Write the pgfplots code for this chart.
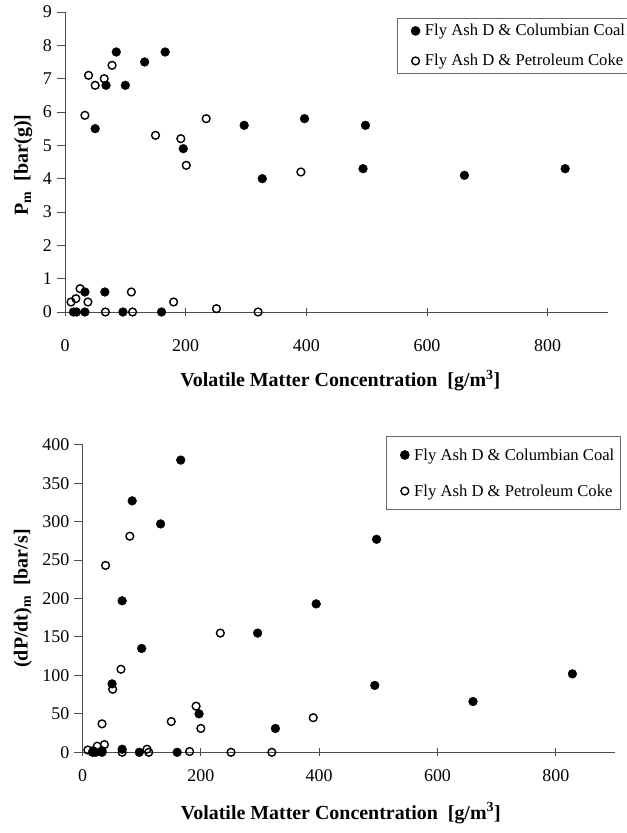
\documentclass[border=0pt]{standalone}
\usepackage{pgfplots}
\pgfplotsset{compat=1.18}
\usepackage{fontspec}
\setmainfont{Liberation Serif}

% Maximum explosion pressure and rate of pressure rise for the two fly-ash blends
\pgfplotstableread{
x y
14 0
19 0
33 0
33 0.6
50 5.5
66 0.6
68 6.8
85 7.8
96 0
100 6.8
132 7.5
160 0
166 7.8
196 4.9
297 5.6
327 4.0
397 5.8
494 4.3
498 5.6
662 4.1
829 4.3
}\coalP
\pgfplotstableread{
x y
10 0.3
18 0.4
25 0.7
33 5.9
38 0.3
39 7.1
50 6.8
65 7.0
67 0
78 7.4
110 0.6
112 0
150 5.3
180 0.3
192 5.2
201 4.4
234 5.8
251 0.1
320 0
391 4.2
}\cokeP
\pgfplotstableread{
x y
17 0
22 0
33 0
33 2
50 89
67 197
67 4
84 327
96 0
100 135
132 297
160 0
166 380
197 50
296 155
326 31
395 193
494 87
497 277
660 66
828 102
}\coalR
\pgfplotstableread{
x y
9 3
18 2
25 8
33 37
37 10
39 243
51 82
65 108
67 0
80 281
109 4
112 0
150 40
181 1
192 60
200 31
233 155
251 0
320 0
390 45
}\cokeR

\pgfplotsset{
  ashaxis/.style={
    scale only axis,
    axis lines*=left,
    axis line style={line width=0.9bp, black!70},
    every tick/.style={line width=0.9bp, black!70},
    xtick align=center,
    ytick align=outside,
    major tick length=8bp,
    xmin=0, xmax=900, ymin=0,
    xtick={0,200,...,800},
    clip=false,
    /pgf/number format/assume math mode=true,
    xticklabel style={font=\fontsize{18}{21}\selectfont},
    yticklabel style={font=\fontsize{18}{21}\selectfont,
      anchor=east, inner sep=0pt, xshift=-5bp},
    label style={font=\fontsize{20}{24}\selectfont\bfseries},
    legend cell align=left,
    legend style={draw=black!60, line width=0.8bp,
      font=\fontsize{16.7}{19}\selectfont,
      inner xsep=4bp},
    legend image code/.code={%
      \path (0bp,0bp) (21bp,0bp);
      \draw[#1] plot coordinates {(14bp,0bp)};},
  },
  coal/.style={only marks, mark=*, mark size=4.4bp, mark options={fill=black, draw=black}},
  coke/.style={only marks, mark=o, mark size=3.9bp, mark options={draw=black, line width=1.4bp}},
}

\begin{document}
\begin{tikzpicture}
\useasboundingbox (0bp,0bp) rectangle (627bp,833bp);

% upper panel: maximum pressure
\begin{axis}[ashaxis,
  at={(65bp,521bp)}, anchor=south west,
  width=543bp, height=300bp,
  ymax=9, ytick={0,1,...,9},
  xticklabel style={anchor=base, yshift=-36bp},
  xlabel={Volatile Matter Concentration\ \ [g/m\textsuperscript{3}]},
  xlabel style={at={(axis description cs:0.507,-0.25)}, anchor=base},
  ylabel={P\textsubscript{m}\ \ [bar(g)]},
  ylabel style={at={(axis description cs:-0.077,0.49)}, anchor=center},
  legend style={at={(axis description cs:0.611,0.98)}, anchor=north west,
    row sep=13bp, inner ysep=4bp},
]
\addplot[coal] table {\coalP};
\addlegendentry{Fly Ash D \& Columbian Coal}
\addplot[coke] table {\cokeP};
\addlegendentry{Fly Ash D \& Petroleum Coke}
\end{axis}

% lower panel: maximum rate of pressure rise
\begin{axis}[ashaxis,
  at={(82.5bp,80.7bp)}, anchor=south west,
  width=532.5bp, height=307.6bp,
  ymax=400, ytick={0,50,...,400},
  xticklabel style={anchor=base, yshift=-25bp},
  xlabel={Volatile Matter Concentration\ \ [g/m\textsuperscript{3}]},
  xlabel style={at={(axis description cs:0.485,-0.218)}, anchor=base},
  ylabel={(dP/dt)\textsubscript{m}\ \ [bar/s]},
  ylabel style={at={(axis description cs:-0.112,0.5)}, anchor=center},
  legend style={at={(axis description cs:0.570,1.028)}, anchor=north west,
    row sep=19bp, inner ysep=10bp},
]
\addplot[coal] table {\coalR};
\addlegendentry{Fly Ash D \& Columbian Coal}
\addplot[coke] table {\cokeR};
\addlegendentry{Fly Ash D \& Petroleum Coke}
\end{axis}
\end{tikzpicture}
\end{document}
